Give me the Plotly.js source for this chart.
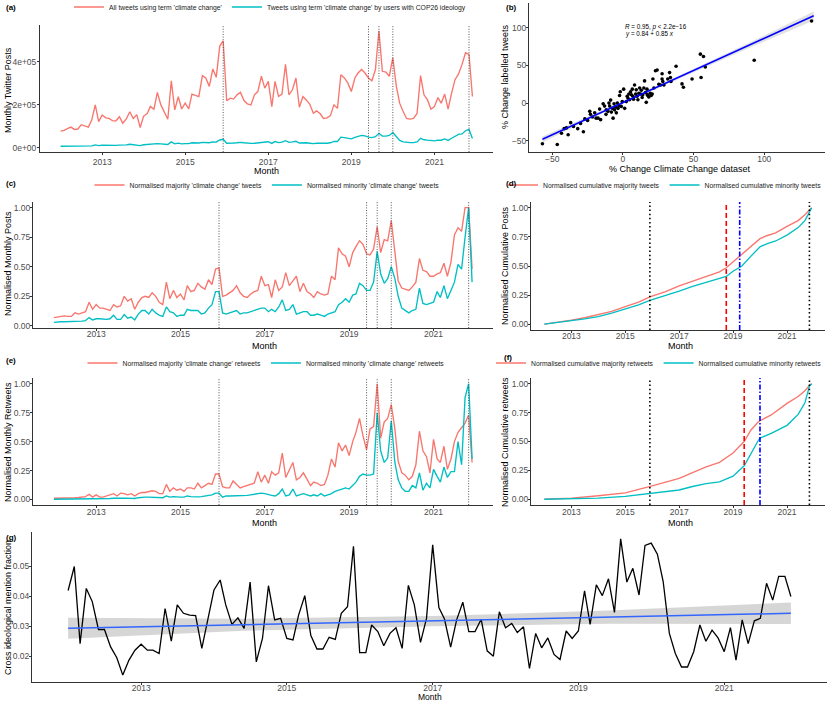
<!DOCTYPE html>
<html>
<head>
<meta charset="utf-8">
<script src="https://cdn.plot.ly/plotly-3.0.1.min.js"></script>
<style>
  html, body { margin: 0; padding: 0; background: #ffffff; width: 830px; height: 706px; overflow: hidden; }
  #chart { width: 830px; height: 706px; overflow: hidden; }
</style>
</head>
<body>
<div id="chart"></div>
<script>
  var FONT = "Liberation Sans, Arial, sans-serif";
  var RED = "#F8766D";
  var CYAN = "#00BFC4";

  // monthly categories, 2012-01 .. 2021-12
  var months = [];
  for (var yr = 2012; yr <= 2021; yr++) {
    for (var mo = 1; mo <= 12; mo++) {
      months.push(yr + "-" + (mo < 10 ? "0" + mo : mo) + "-01");
    }
  }

  // (a) monthly posts, thousands
  var allTweetsK = [
    78, 82, 90, 97, 86, 88, 108, 103, 97, 130, 200, 122,
    153, 140, 137, 127, 125, 145, 115, 135, 168, 137, 155, 95,
    148, 160, 193, 180, 258, 200, 165, 133, 312, 177, 238, 181,
    208, 181, 250, 245, 238, 336, 325, 286, 367, 328, 473, 497,
    219, 231, 227, 247, 258, 220, 205, 200, 247, 262, 333, 278,
    309, 192, 309, 239, 250, 388, 247, 270, 325, 189, 239, 223,
    203, 161, 172, 160, 137, 140, 150, 200, 184, 340, 325, 302,
    262, 325, 348, 364, 348, 325, 312, 364, 544, 356, 352, 333,
    419, 286, 208, 169, 137, 134, 137, 160, 336, 247, 223, 180,
    192, 234, 208, 250, 180, 255, 317, 344, 388, 442, 434, 239
  ];
  var cop26TweetsK = [
    8, 8, 8, 8, 8, 9, 9, 9, 9, 10, 14, 11,
    13, 12, 12, 11, 12, 13, 12, 14, 17, 15, 16, 11,
    15, 17, 18, 18, 20, 19, 17, 16, 28, 19, 22, 19,
    20, 20, 24, 23, 23, 26, 25, 24, 28, 27, 37, 40,
    22, 21, 23, 24, 26, 24, 22, 21, 22, 24, 27, 30,
    29, 21, 30, 25, 27, 34, 26, 28, 31, 23, 25, 24,
    22, 20, 22, 21, 21, 22, 24, 30, 30, 50, 48, 46,
    42, 49, 53, 58, 56, 50, 48, 52, 68, 55, 55, 58,
    72, 50, 35, 28, 25, 25, 25, 28, 45, 38, 36, 34,
    33, 36, 36, 42, 35, 45, 55, 63, 65, 80, 86, 44
  ];

  // (b) percentage change, all vs labelled
  var changeAll = [-57, -46.5, -43.5, -41.6, -40, -38.8, -37, -35, -32, -30, -28, -27, -25, -23.5,
    -23, -21.6, -20, -19, -17.6, -16.5, -15.8, -14, -13, -12, -11.8, -10.6, -9.9, -9.4, -8.7, -8.2,
    -7.5, -7, -6.3, -5.9, -5.2, -4.7, -4, -3.5, -2.8, -2.4, -1.9, -1.2, -0.5, 0.5, 1.2, 2.4, 3, 3.5,
    4.2, 4.7, 5.4, 6, 6.6, 7, 7.5, 8.2, 9, 9.4, 10, 10.6, 11.3, 11.8, 12.5, 13, 13.6, 14, 14.8, 15.3,
    16, 16.5, 17, 17.2, 17.6, 18.3, 19.3, 20, 20.7, 21.2, 21.9, 23, 24.2, 25.4, 26.6, 27.7, 27.7,
    28.2, 29, 31.7, 33, 34, 33.6, 37.6, 41.8, 42.8, 48.9, 55.3, 54.8, 57, 58.3, 92.9, 133.5];
  var changeLabelled = [-54, -55, -40, -34, -33, -42, -26, -31, -34, -27, -38, -21, -23, -11,
    -15, -18.5, -13, -20, -20, -8, -22, -1, -4, -15, -9, -11, 0, -4, 4, -12,
    -7, -20, -1, -9, -5, -13, 0, -7, -3.5, 10, 15, -4.4, 2, 18.5, -7, 2, 9, 6.6,
    12, 4.4, 15, 11, 18.5, 9, 5, 24, 12, 17.6, 9, 4.4, 13, 20, 12, 17, 7.5, 11, 20, 29.5,
    14, 1, 18.5, 11, 10, 8, 13, 10, 12, 32, 20, 43, 44, 25, 24, 39, 32,
    28.6, 24, 32, 40.5, 28.6, 34, 49, 25.5, 21, 32, 34, 65, 62, 48, 57, 109];
  var fitX = [-57, 135];
  var fitY = [-48, 116];
  var fitBandX = [-57, -20, 5, 40, 90, 135];
  var fitBandLow = [-52.5, -18.2, 3.6, 32.8, 73.8, 109.6];
  var fitBandHigh = [-44.5, -14.2, 6.6, 36.8, 80.8, 121.6];

  // (c) normalised monthly posts
  var normMajorityPosts = [
    .07, .075, .08, .085, .08, .08, .11, .10, .11, .12, .20, .14,
    .18, .15, .15, .14, .13, .18, .16, .17, .25, .21, .23, .14,
    .20, .24, .25, .24, .28, .25, .20, .18, .37, .23, .30, .24,
    .27, .22, .34, .29, .30, .36, .33, .31, .39, .35, .48, .49,
    .25, .26, .28, .30, .34, .28, .25, .24, .27, .29, .30, .42,
    .34, .35, .24, .39, .30, .33, .45, .34, .38, .42, .29, .36,
    .29, .27, .24, .29, .27, .26, .27, .42, .39, .66, .61, .59,
    .50, .62, .67, .72, .69, .61, .60, .65, .84, .62, .73, .72,
    .89, .63, .38, .32, .31, .30, .33, .37, .57, .47, .46, .42,
    .42, .44, .45, .53, .42, .54, .77, .83, .80, 1.00, 1.00, .48
  ];
  var normMinorityPosts = [
    .03, .035, .035, .035, .035, .035, .04, .04, .04, .045, .07, .05,
    .06, .06, .055, .055, .06, .09, .055, .055, .095, .065, .075, .05,
    .10, .13, .13, .10, .14, .11, .09, .08, .16, .12, .11, .08,
    .09, .09, .14, .13, .13, .13, .10, .11, .15, .18, .29, .29,
    .11, .10, .11, .12, .13, .10, .11, .11, .12, .13, .14, .15,
    .15, .12, .14, .12, .16, .22, .13, .14, .18, .10, .11, .12,
    .12, .09, .09, .10, .09, .08, .10, .11, .12, .18, .20, .23,
    .20, .26, .27, .36, .34, .30, .30, .37, .63, .44, .36, .40,
    .50, .40, .25, .15, .13, .11, .13, .14, .32, .19, .18, .19,
    .20, .29, .24, .34, .23, .30, .37, .52, .48, .75, 1.00, .37
  ];

  // (d) normalised cumulative posts
  var cumPostDates = ["2012-01-01", "2012-07-01", "2013-01-01", "2013-07-01", "2014-01-01", "2014-07-01",
    "2015-01-01", "2015-07-01", "2015-12-01", "2016-07-01", "2017-01-01", "2017-07-01", "2018-01-01",
    "2018-07-01", "2018-10-01", "2019-01-01", "2019-05-01", "2019-09-01", "2020-01-01", "2020-04-01",
    "2020-08-01", "2021-01-01", "2021-06-01", "2021-09-01", "2021-11-01", "2021-12-01"];
  var cumMajorityPosts = [0, .015, .035, .055, .08, .11, .15, .19, .235, .28, .33, .37, .415,
    .45, .485, .535, .595, .665, .735, .76, .785, .84, .89, .94, .985, 1.0];
  var cumMinorityPosts = [0, .012, .03, .045, .065, .095, .13, .165, .205, .245, .285, .325, .36,
    .39, .41, .455, .50, .585, .665, .69, .715, .765, .83, .89, .96, 1.0];

  // (e) normalised monthly retweets
  var normMajorityRetweets = [
    .01, .01, .01, .012, .012, .015, .015, .017, .02, .025, .045, .02,
    .04, .02, .02, .03, .045, .05, .03, .055, .05, .04, .05, .03,
    .05, .06, .06, .07, .075, .07, .05, .05, .13, .07, .10, .08,
    .09, .07, .10, .10, .09, .14, .10, .12, .14, .13, .22, .22,
    .11, .10, .10, .16, .13, .10, .11, .12, .13, .14, .24, .15,
    .21, .14, .24, .21, .23, .40, .19, .26, .32, .17, .19, .23,
    .17, .12, .15, .14, .12, .13, .21, .35, .28, .49, .42, .47,
    .38, .50, .58, .70, .55, .43, .61, .63, 1.00, .53, .67, .70,
    .82, .61, .33, .23, .21, .17, .20, .30, .59, .42, .37, .23,
    .52, .35, .32, .46, .26, .35, .50, .58, .62, .66, .73, .32
  ];
  var normMinorityRetweets = [
    .002, .002, .003, .003, .003, .004, .004, .004, .005, .005, .008, .005,
    .006, .005, .005, .006, .008, .01, .008, .01, .012, .01, .012, .008,
    .015, .02, .02, .02, .02, .018, .016, .015, .03, .02, .025, .02,
    .02, .02, .03, .025, .022, .022, .025, .03, .035, .04, .055, .055,
    .02, .03, .03, .03, .03, .03, .032, .035, .04, .045, .05, .055,
    .05, .04, .035, .03, .05, .09, .03, .04, .09, .03, .04, .05,
    .04, .03, .04, .03, .05, .03, .04, .05, .07, .08, .09, .10,
    .09, .12, .15, .20, .22, .21, .21, .22, .75, .42, .32, .36,
    .68, .32, .17, .10, .07, .07, .12, .10, .23, .08, .14, .10,
    .26, .20, .15, .28, .19, .24, .24, .50, .30, .88, 1.00, .35
  ];

  // (f) normalised cumulative retweets
  var cumRetweetDates = ["2012-01-01", "2013-01-01", "2014-01-01", "2015-01-01", "2016-01-01", "2016-07-01",
    "2017-01-01", "2017-07-01", "2018-01-01", "2018-07-01", "2019-01-01", "2019-06-01", "2019-09-01",
    "2019-12-01", "2020-01-01", "2020-06-01", "2021-01-01", "2021-06-01", "2021-09-01", "2021-11-01",
    "2021-12-01"];
  var cumMajorityRetweets = [0, .01, .03, .055, .115, .145, .18, .23, .28, .32, .40, .50, .60,
    .665, .68, .73, .83, .89, .94, .985, 1.0];
  var cumMinorityRetweets = [0, .003, .01, .025, .05, .065, .08, .11, .135, .15, .20, .29, .40,
    .50, .53, .57, .64, .735, .835, .98, 1.0];

  // (g) cross ideological mention fraction
  var crossMention = [
    .0420, .0500, .0243, .0427, .0383, .0290, .0290, .0232, .0196, .0138, .0188, .0221,
    .0241, .0221, .0221, .0210, .0360, .0251, .0372, .0344, .0338, .0336, .0227, .0329,
    .0422, .0455, .0372, .0307, .0329, .0294, .0448, .0182, .0260, .0436, .0322, .0327,
    .0260, .0255, .0338, .0403, .0271, .0225, .0225, .0264, .0257, .0344, .0366, .0567,
    .0213, .0213, .0305, .0283, .0236, .0277, .0296, .0227, .0437, .0372, .0247, .0327,
    .0572, .0363, .0325, .0231, .0322, .0381, .0283, .0283, .0324, .0219, .0201, .0349,
    .0296, .0310, .0280, .0299, .0160, .0277, .0229, .0262, .0207, .0190, .0285, .0260,
    .0285, .0419, .0307, .0439, .0403, .0459, .0347, .0592, .0448, .0494, .0405, .0570,
    .0578, .0541, .0450, .0277, .0210, .0165, .0165, .0216, .0305, .0251, .0288, .0262,
    .0216, .0296, .0188, .0322, .0243, .0319, .0327, .0444, .0388, .0467, .0467, .0400
  ];
  var trendDates = ["2012-01-01", "2014-06-01", "2017-01-01", "2019-06-01", "2021-12-01"];
  var trendFit = [.0294, .0306, .0318, .0331, .0344];
  var trendLow = [.0259, .0286, .0301, .0309, .0308];
  var trendHigh = [.0329, .0326, .0335, .0353, .0380];

  // reference dates
  var eventDates = ["2015-12-01", "2019-06-01", "2019-09-01", "2020-01-01", "2021-11-01"];
  var copDates = ["2015-12-01", "2021-11-01"];
  var postBreaks = { majority: "2018-10-01", minority: "2019-04-01" };
  var retweetBreaks = { majority: "2019-06-01", minority: "2020-01-01" };

  var DATE_RANGE = ["2011-07-04", "2022-05-31"];

  function px(x) { return x / 830; }
  function py(y) { return 1 - y / 706; }

  function axis(extra) {
    return Object.assign({
      showline: true, linecolor: "#333333", linewidth: 1,
      ticks: "outside", ticklen: 2, tickcolor: "#333333", tickwidth: 1,
      showgrid: false, zeroline: false, fixedrange: true,
      tickfont: { family: FONT, size: 8.5, color: "#4D4D4D" }
    }, extra);
  }

  function dateAxis(domain, anchor, standoff) {
    return axis({
      type: "date", domain: domain, anchor: anchor, range: DATE_RANGE,
      tick0: "2013-01-01", dtick: "M24", tickformat: "%Y", ticklabelstandoff: standoff
    });
  }

  function lineTrace(x, y, color, name, xa, ya, legend) {
    return {
      x: x, y: y, type: "scatter", mode: "lines", name: name,
      line: { color: color, width: 1.35 },
      xaxis: xa, yaxis: ya, legend: legend, hoverinfo: "skip"
    };
  }

  function bandTrace(x, low, high, fill, xa, ya) {
    return {
      x: x.concat(x.slice().reverse()),
      y: high.concat(low.slice().reverse()),
      type: "scatter", mode: "lines", fill: "toself", fillcolor: fill,
      line: { width: 0 }, showlegend: false, xaxis: xa, yaxis: ya, hoverinfo: "skip"
    };
  }

  var data = [
    lineTrace(months, allTweetsK, RED, "All tweets using term 'climate change'", "x", "y", "legend"),
    lineTrace(months, cop26TweetsK, CYAN, "Tweets using term 'climate change' by users with COP26 ideology", "x", "y", "legend"),

    bandTrace(fitBandX, fitBandLow, fitBandHigh, "rgba(170,170,170,0.35)", "x2", "y2"),
    { x: changeAll, y: changeLabelled, type: "scatter", mode: "markers",
      marker: { color: "#000", size: 3.6 }, showlegend: false, xaxis: "x2", yaxis: "y2", hoverinfo: "skip" },
    { x: fitX, y: fitY, type: "scatter", mode: "lines", line: { color: "#0000FF", width: 1.5 },
      showlegend: false, xaxis: "x2", yaxis: "y2", hoverinfo: "skip" },

    lineTrace(months, normMajorityPosts, RED, "Normalised majority 'climate change' tweets", "x3", "y3", "legend2"),
    lineTrace(months, normMinorityPosts, CYAN, "Normalised minority 'climate change' tweets", "x3", "y3", "legend2"),

    lineTrace(cumPostDates, cumMajorityPosts, RED, "Normalised cumulative majority tweets", "x4", "y4", "legend3"),
    lineTrace(cumPostDates, cumMinorityPosts, CYAN, "Normalised cumulative minority tweets", "x4", "y4", "legend3"),

    lineTrace(months, normMajorityRetweets, RED, "Normalised majority 'climate change' retweets", "x5", "y5", "legend4"),
    lineTrace(months, normMinorityRetweets, CYAN, "Normalised minority 'climate change' retweets", "x5", "y5", "legend4"),

    lineTrace(cumRetweetDates, cumMajorityRetweets, RED, "Normalised cumulative majority retweets", "x6", "y6", "legend5"),
    lineTrace(cumRetweetDates, cumMinorityRetweets, CYAN, "Normalised cumulative minority retweets", "x6", "y6", "legend5"),

    bandTrace(trendDates, trendLow, trendHigh, "rgba(153,153,153,0.4)", "x7", "y7"),
    { x: months, y: crossMention, type: "scatter", mode: "lines", line: { color: "#000", width: 1.3 },
      showlegend: false, xaxis: "x7", yaxis: "y7", hoverinfo: "skip" },
    { x: trendDates, y: trendFit, type: "scatter", mode: "lines", line: { color: "#3366FF", width: 1.5 },
      showlegend: false, xaxis: "x7", yaxis: "y7", hoverinfo: "skip" }
  ];

  // vertical reference lines
  var shapes = [];
  function vline(xa, ya, d, color, width, dash) {
    shapes.push({ type: "line", xref: xa, yref: ya + " domain", x0: d, x1: d, y0: 0, y1: 1,
      line: { color: color, width: width, dash: dash } });
  }
  [["x", "y"], ["x3", "y3"], ["x5", "y5"]].forEach(function (p) {
    eventDates.forEach(function (d) { vline(p[0], p[1], d, "#444444", 0.9, "1px,1.6px"); });
  });
  [["x4", "y4", postBreaks], ["x6", "y6", retweetBreaks]].forEach(function (p) {
    copDates.forEach(function (d) { vline(p[0], p[1], d, "#000000", 1.6, "1.5px,2.6px"); });
    vline(p[0], p[1], p[2].majority, "#FF0000", 1.6, "5px,3px");
    vline(p[0], p[1], p[2].minority, "#0000FF", 1.6, "5px,2px,1.5px,2px");
  });

  function legend(x, y, anchor) {
    return { orientation: "h", x: x, y: y, xanchor: anchor || "center", yanchor: "middle",
      bgcolor: "rgba(0,0,0,0)", itemwidth: 30, tracegroupgap: 0,
      font: { family: FONT, size: 6.8, color: "#1A1A1A" } };
  }

  function note(text, x, y, opts) {
    return Object.assign({ text: text, xref: "paper", yref: "paper", x: px(x), y: py(y),
      xanchor: "center", yanchor: "middle", showarrow: false,
      font: { family: FONT, size: 9, color: "#000" } }, opts || {});
  }
  function panelLabel(text, x, y) {
    return note("<b>" + text + "</b>", x, y, { xanchor: "left", font: { family: FONT, size: 8, color: "#000" } });
  }
  function yLabel(text, x, y) {
    return note(text, x, y, { textangle: -90 });
  }

  var norm = { tickvals: [0, 0.25, 0.5, 0.75, 1], tickformat: ".2f", ticklabelstandoff: -2 };

  var layout = {
    width: 830, height: 706,
    margin: { l: 0, r: 0, t: 0, b: 0, autoexpand: false },
    paper_bgcolor: "#ffffff", plot_bgcolor: "#ffffff",
    font: { family: FONT },
    shapes: shapes,

    xaxis: dateAxis([px(40), px(493)], "y", 0),
    yaxis: axis({ domain: [py(152), py(25)], anchor: "x", range: [-18.8, 571], ticklabelstandoff: -1,
      tickvals: [0, 200, 400], ticktext: ["0e+00", "2e+05", "4e+05"] }),

    xaxis2: axis({ domain: [px(529), px(825)], anchor: "y2", range: [-66.5, 143], tickvals: [-50, 0, 50, 100],
      ticklabelstandoff: -3 }),
    yaxis2: axis({ domain: [py(152), py(3)], anchor: "x2", range: [-65, 133], tickvals: [-50, 0, 50, 100],
      ticklabelstandoff: -2 }),

    xaxis3: dateAxis([px(33), px(493)], "y3", -4),
    yaxis3: axis(Object.assign({ domain: [py(328), py(202)], anchor: "x3", range: [-0.018, 1.048] }, norm)),

    xaxis4: dateAxis([px(531), px(825)], "y4", -4),
    yaxis4: axis(Object.assign({ domain: [py(330), py(202)], anchor: "x4", range: [-0.05, 1.05] }, norm)),

    xaxis5: dateAxis([px(33), px(493)], "y5", -3),
    yaxis5: axis(Object.assign({ domain: [py(505), py(378)], anchor: "x5", range: [-0.048, 1.05] }, norm)),

    xaxis6: dateAxis([px(531), px(825)], "y6", -3),
    yaxis6: axis(Object.assign({ domain: [py(505), py(378)], anchor: "x6", range: [-0.05, 1.05] }, norm)),

    xaxis7: dateAxis([px(32), px(827)], "y7", -4),
    yaxis7: axis({ domain: [py(682), py(532)], anchor: "x7", range: [0.0115, 0.0615], ticklabelstandoff: -2,
      tickvals: [0.02, 0.03, 0.04, 0.05], tickformat: ".2f" }),

    legend: legend(px(270), py(7)),
    legend2: legend(px(267), py(185)),
    legend3: legend(px(827), py(185), "right"),
    legend4: legend(px(266), py(363)),
    legend5: legend(px(827), py(363), "right"),

    annotations: [
      panelLabel("(a)", 4, 7), panelLabel("(b)", 504, 7), panelLabel("(c)", 4, 184),
      panelLabel("(d)", 504, 184), panelLabel("(e)", 4, 360), panelLabel("(f)", 502, 358),
      panelLabel("(g)", 4, 537),

      note("Month", 266, 171), note("% Change Climate Change dataset", 680, 168.5),
      note("Month", 264, 346), note("Month", 680, 346),
      note("Month", 264, 523), note("Month", 680, 523),
      note("Month", 430, 697, { font: { family: FONT, size: 8.5, color: "#000" } }),

      yLabel("Monthly Twitter Posts", 8, 90), yLabel("% Change labelled tweets", 505, 77),
      yLabel("Normalised Monthly Posts", 8, 264), yLabel("Normalised Cumulative Posts", 505, 266),
      yLabel("Normalised Monthly Retweets", 8, 442), yLabel("Normalised Cumulative retweets", 505, 442),
      yLabel("Cross ideological mention fraction", 8, 608),

      { text: "<i>R</i> = 0.95, <i>p</i> < 2.2e\u221216", xref: "x2", yref: "y2", x: 0, y: 101,
        xanchor: "left", yanchor: "middle", showarrow: false,
        font: { family: FONT, size: 6.3, color: "#000" } },
      { text: "<i>y</i> = 0.84 + 0.85 <i>x</i>", xref: "x2", yref: "y2", x: 0, y: 92,
        xanchor: "left", yanchor: "middle", showarrow: false,
        font: { family: FONT, size: 6.3, color: "#000" } }
    ]
  };

  Plotly.newPlot("chart", data, layout, { displayModeBar: false, staticPlot: true });
</script>
</body>
</html>
